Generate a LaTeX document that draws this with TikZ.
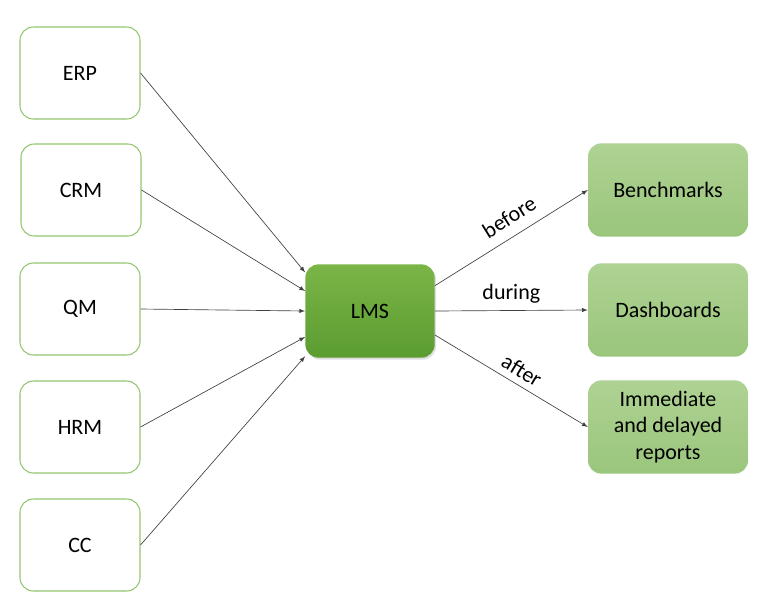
\documentclass[tikz,border=0pt]{standalone}
\usepackage{fontspec}
\setmainfont{Carlito}
\usetikzlibrary{shadows}
\definecolor{srcborder}{HTML}{92C56C}
\definecolor{lmstop}{HTML}{7BB548}
\definecolor{lmsbot}{HTML}{5B9C30}
\definecolor{outtop}{HTML}{AED293}
\definecolor{outbot}{HTML}{9AC67C}
\begin{document}
\begin{tikzpicture}[x=0.75pt,y=-0.75pt]
        \tikzstyle{every node}=[font=\fontsize{16.5}{20}\selectfont]
        \tikzstyle{src}=[rectangle,rounded corners=10pt,draw=srcborder,line width=0.8pt,minimum width=90pt,minimum height=69pt]
        \tikzstyle{lms}=[rectangle,rounded corners=10pt,top color=lmstop,bottom color=lmsbot,drop shadow={opacity=0.25,shadow xshift=1pt,shadow yshift=-1.5pt},minimum width=97pt,minimum height=70pt]
        \tikzstyle{result}=[rectangle,rounded corners=10pt,top color=outtop,bottom color=outbot,minimum width=120pt,minimum height=70pt,align=center]
        \tikzstyle{link}=[->,>=latex,draw=black!75,line width=0.5pt]
        \useasboundingbox (0,0) rectangle (770,604);
        \node[src] (ERP) at (80,73) {ERP};
        \node[src] (CRM) at (81,190) {CRM};
        \node[src] (QM) at (80,309) {QM};
        \node[src] (HRM) at (80,427) {HRM};
        \node[src] (CC) at (80,545) {CC};
        \node[lms] (LMS) at (370,311) {LMS};
        \node[result] (Bench) at (668,190) {Benchmarks};
        \node[result] (Dash) at (668,310) {Dashboards};
        \node[result] (Rep) at (668,427) {Immediate\\and delayed\\reports};
        \draw[link] (ERP.east) -- ([yshift=29pt]LMS.west);
        \draw[link] (CRM.east) -- ([yshift=15pt]LMS.west);
        \draw[link] (QM.east) -- (LMS.west);
        \draw[link] (HRM.east) -- ([yshift=-19.5pt]LMS.west);
        \draw[link] (CC.east) -- ([yshift=-34pt]LMS.west);
        \draw[link] ([yshift=19pt]LMS.east) -- node[pos=0.55,sloped,above,inner sep=8pt] {before} (Bench.west);
        \draw[link] (LMS.east) -- node[above,inner sep=5pt] {during} (Dash.west);
        \draw[link] ([yshift=-18pt]LMS.east) -- node[pos=0.52,sloped,above,inner sep=5pt] {after} (Rep.west);
\end{tikzpicture}
\end{document}
